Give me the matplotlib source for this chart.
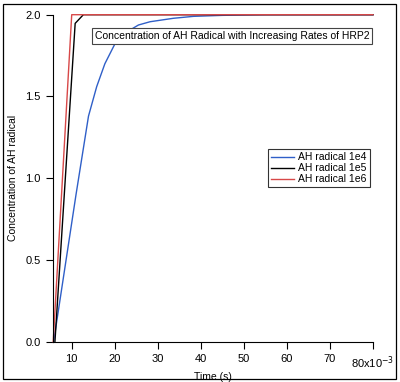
import matplotlib
matplotlib.use("Agg")
import matplotlib.pyplot as plt
from matplotlib.patches import Rectangle

plt.rcParams['font.family'] = ['Liberation Sans', 'DejaVu Sans']

# time (s) and concentration
t_1e4 = [0.0058, 0.0110, 0.0139, 0.0158, 0.0177, 0.0201, 0.0225, 0.0255, 0.0282,
         0.0336, 0.0383, 0.0450, 0.0550, 0.0800]
c_1e4 = [0.0, 0.90, 1.38, 1.56, 1.70, 1.825, 1.89, 1.937, 1.957,
         1.978, 1.990, 1.996, 2.0, 2.0]
t_1e5 = [0.0061, 0.0108, 0.0127, 0.0800]
c_1e5 = [0.0, 1.947, 2.0, 2.0]
t_1e6 = [0.0057, 0.0100, 0.0800]
c_1e6 = [0.0, 2.0, 2.0]

xticks = [0.01, 0.02, 0.03, 0.04, 0.05, 0.06, 0.07, 0.08]
xticklabels = ["10", "20", "30", "40", "50", "60", "70", "80x10$^{-3}$"]
yticks = [0.0, 0.5, 1.0, 1.5, 2.0]

fig = plt.figure(figsize=(4.0, 3.82), dpi=100)
ax = fig.add_axes([0.1325, 0.1055, 0.8, 0.856])

ax.plot(t_1e4, c_1e4, color='#2f5fc8', lw=1.0, label='AH radical 1e4', clip_on=False)
ax.plot(t_1e5, c_1e5, color='black', lw=1.0, label='AH radical 1e5', clip_on=False)
ax.plot(t_1e6, c_1e6, color='#d84848', lw=1.0, label='AH radical 1e6', clip_on=False)

ax.set_xlim(0.00565, 0.080)
ax.set_ylim(0, 2.0)
ax.set_xticks(xticks)
ax.set_xticklabels(xticklabels)
ax.set_yticks(yticks)
ax.set_yticklabels([f"{v:.1f}" for v in yticks])
ax.tick_params(direction='out', length=5, width=0.8, labelsize=8, pad=4)

for s in ['top', 'right']:
    ax.spines[s].set_visible(False)
for s in ['left', 'bottom']:
    ax.spines[s].set_linewidth(0.8)

ax.set_xlabel("Time (s)", fontsize=7.5, labelpad=1)
ax.set_ylabel("Concentration of AH radical", fontsize=7.5, labelpad=5)

ax.text(0.56, 0.935, "Concentration of AH Radical with Increasing Rates of HRP2",
        transform=ax.transAxes, ha='center', va='center', fontsize=7.5,
        bbox=dict(boxstyle='square,pad=0.25', fc='white', ec='#444444', lw=0.8))

leg = ax.legend(loc='upper left', bbox_to_anchor=(0.655, 0.605), fontsize=7.5,
                frameon=True, fancybox=False, handlelength=2.2,
                borderpad=0.3, labelspacing=0.1, handletextpad=0.4)
leg.get_frame().set_edgecolor('black')
leg.get_frame().set_linewidth(0.8)

fig.patches.append(Rectangle((0.008, 0.008), 0.982, 0.982, transform=fig.transFigure,
                             fill=False, ec='black', lw=0.9))

fig.savefig("out.png", dpi=100)
